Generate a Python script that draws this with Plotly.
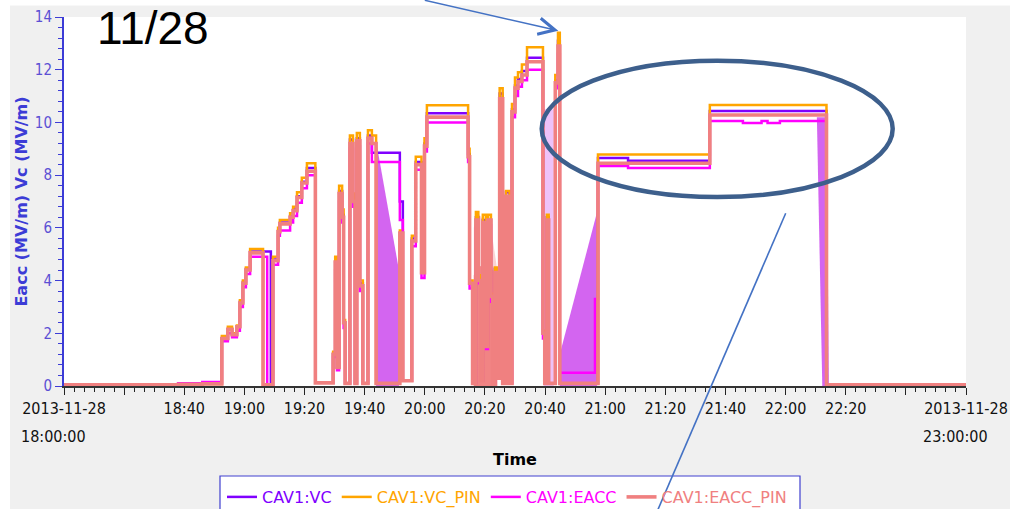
import pandas as pd
import plotly.graph_objects as go

START = pd.Timestamp("2013-11-28 18:00:00")

# Archived samples: minutes after 18:00 and field values (MV/m)
t_min = [0.0, 38.0, 46.0, 52.5, 54.5, 55.9, 57.5, 58.5, 59.5, 60.5,
         61.9, 66.2, 67.6, 68.8, 69.5, 71.2, 71.8, 75.2, 76.2, 77.5,
         79.1, 80.8, 83.6, 89.5, 90.2, 90.8, 91.5, 92.5, 93.0, 93.5,
         95.1, 96.1, 96.8, 97.4, 98.4, 99.4, 101.1, 102.4, 103.8, 111.7,
         112.7, 115.7, 117.0, 118.9, 119.9, 120.7, 134.4, 134.9, 135.9, 137.0,
         137.8, 138.6, 139.3, 140.3, 141.0, 142.0, 142.6, 143.3, 144.1, 144.9,
         145.9, 147.0, 148.2, 149.0, 150.0, 151.0, 152.3, 154.0, 159.3, 159.9,
         160.6, 161.2, 163.4, 164.3, 164.9, 176.6, 177.6, 187.6, 214.8, 225.8,
         232.0, 234.0, 238.1, 253.6, 300.0]

vc = [0.05, 0.08, 0.12, 1.80, 2.15, 1.95, 2.25, 3.20, 3.95, 4.45,
      5.10, 5.10, 5.10, 0.05, 4.80, 5.90, 6.20, 6.45, 6.70, 7.20,
      7.75, 8.27, 0.12, 1.20, 4.70, 0.70, 7.40, 6.50, 2.40, 0.10,
      9.35, 7.20, 0.10, 9.40, 3.90, 0.10, 9.50, 8.85, 8.85, 7.00,
      0.20, 5.60, 8.50, 4.30, 9.20, 10.35, 8.80, 3.90, 0.10, 6.40,
      4.10, 0.20, 6.30, 1.50, 6.30, 3.40, 0.10, 4.45, 0.30, 11.10,
      0.10, 7.35, 0.10, 10.50, 11.40, 11.65, 11.95, 12.45, 2.00, 0.10,
      6.40, 0.10, 11.60, 13.10, 0.10, 0.10, 8.65, 8.55, 10.43, 10.43,
      10.43, 10.43, 10.43, 0.05, 0.05]

vc_pin = [0.05, 0.06, 0.08, 1.90, 2.25, 2.00, 2.30, 3.25, 4.00, 4.50,
          5.20, 0.05, 0.05, 0.05, 4.90, 6.00, 6.30, 6.55, 6.80, 7.35,
          7.90, 8.45, 0.12, 1.30, 4.90, 0.70, 7.60, 6.70, 2.50, 0.10,
          9.50, 7.30, 0.10, 9.60, 4.00, 0.10, 9.70, 9.50, 0.10, 5.90,
          0.20, 5.70, 8.70, 4.40, 9.40, 10.65, 9.00, 4.00, 0.10, 6.60,
          4.20, 0.20, 6.50, 1.50, 6.50, 3.50, 0.10, 4.50, 0.30, 11.30,
          0.10, 7.40, 0.10, 10.70, 11.70, 11.90, 12.20, 12.85, 2.10, 0.10,
          6.50, 0.10, 11.80, 13.40, 0.10, 0.10, 8.78, 8.78, 10.66, 10.66,
          10.66, 10.66, 10.66, 0.05, 0.05]

eacc = [0.05, 0.10, 0.15, 1.70, 2.00, 1.85, 2.10, 3.00, 3.75, 4.25,
        4.90, 4.90, 0.05, 0.05, 4.60, 5.70, 5.90, 6.20, 6.45, 6.95,
        7.50, 8.00, 0.12, 1.10, 4.40, 0.60, 7.00, 6.20, 2.20, 0.10,
        9.00, 6.80, 0.10, 9.10, 3.60, 0.10, 9.20, 8.50, 8.50, 6.30,
        0.20, 5.30, 8.20, 4.10, 8.90, 10.00, 8.50, 3.70, 0.10, 6.00,
        3.90, 0.20, 6.00, 1.40, 6.10, 3.20, 0.10, 4.20, 0.30, 10.80,
        0.10, 7.10, 0.10, 10.20, 11.00, 11.35, 11.60, 12.00, 1.80, 0.10,
        6.20, 0.10, 11.30, 12.60, 0.50, 3.30, 8.35, 8.27, 10.05, 9.98,
        10.05, 9.98, 10.05, 0.05, 0.05]

eacc_pin = [0.05, 0.06, 0.08, 1.80, 2.15, 1.95, 2.25, 3.15, 3.90, 4.40,
            5.05, 0.05, 0.05, 0.05, 4.75, 5.85, 6.15, 6.40, 6.65, 7.15,
            7.70, 8.15, 0.12, 1.20, 4.70, 0.70, 7.30, 6.40, 2.40, 0.10,
            9.20, 7.00, 0.10, 9.30, 3.80, 0.10, 9.40, 9.20, 0.10, 5.80,
            0.20, 5.50, 8.40, 4.30, 9.10, 10.20, 8.70, 3.90, 0.10, 6.30,
            4.00, 0.20, 6.20, 1.50, 6.30, 3.40, 0.10, 4.30, 0.30, 10.90,
            0.10, 7.20, 0.10, 10.40, 11.30, 11.55, 11.80, 12.30, 2.00, 0.10,
            6.30, 0.10, 11.50, 12.90, 0.10, 0.10, 8.45, 8.45, 10.28, 10.28,
            10.28, 10.28, 10.28, 0.05, 0.05]

# Min/max envelopes of the archive bins (outline of each shaded band)
band_a_t = [103.8, 103.8, 111.4, 111.4]
band_a_v = [0.0, 9.3, 4.4, 0.0]
band_b_t = [164.9, 164.9, 177.3, 177.3]
band_b_v = [0.0, 1.2, 6.6, 0.0]
band_c_t = [250.4, 253.6, 254.4, 252.2]
band_c_v = [10.2, 10.2, 0.0, 0.0]
band_d_t = [159.6, 159.6, 162.9, 162.9]
band_d_v = [0.0, 10.5, 10.5, 0.0]

# EACC_PIN envelope while the cavity was tripping (20:16 - 20:24)
pin_band_t = [136.3, 136.3, 137.5, 139.5, 141.5, 143.2, 144.1, 144.1]
pin_band_hi = [0.0, 4.2, 4.6, 4.5, 4.6, 4.3, 4.0, 0.0]
pin_band_top = [0.0, 6.0, 6.6, 6.3, 6.4, 5.2, 4.4, 0.0]

series_names = ["CAV1:VC", "CAV1:VC_PIN", "CAV1:EACC", "CAV1:EACC_PIN"]
series_colors = ["#8000ff", "#ffa500", "#ff00ff", "#f08080"]

x_tick_min = list(range(0, 301, 20))
x_tick_text = ["2013-11-28", "", "18:40", "19:00", "19:20", "19:40", "20:00",
               "20:20", "20:40", "21:00", "21:20", "21:40", "22:00", "22:20",
               "", "2013-11-28"]


def to_time(minutes):
    return [(START + pd.Timedelta(minutes=m)).strftime("%Y-%m-%d %H:%M:%S")
            for m in minutes]


# figure geometry (pixels)
W, H = 1010, 509
L, R, T, B = 64, 966, 17, 386


def px_x(p):
    return (p - L) / (R - L)


def px_y(p):
    return (B - p) / (B - T)


FONT = "DejaVu Sans Condensed, Liberation Sans Narrow, DejaVu Sans, sans-serif"
FONT_WIDE = "DejaVu Sans, sans-serif"

fig = go.Figure()

band_fill = "rgba(205, 80, 238, 0.88)"
for bt, bv, col in [(band_a_t, band_a_v, band_fill),
                    (band_b_t, band_b_v, band_fill),
                    (band_c_t, band_c_v, band_fill),
                    (band_d_t, band_d_v, "rgba(205, 80, 238, 0.35)"),
                    (pin_band_t, pin_band_top, "rgba(240, 128, 128, 0.35)"),
                    (pin_band_t, pin_band_hi, "rgba(240, 128, 128, 0.95)")]:
    fig.add_trace(go.Scatter(
        x=to_time(bt), y=bv, mode="lines", fill="toself",
        fillcolor=col, line=dict(width=0, color=col),
        showlegend=False, hoverinfo="skip"))

widths = [2.5, 2.5, 2.5, 3.6]
for name, vals, col, w in zip(series_names, [vc, vc_pin, eacc, eacc_pin],
                              series_colors, widths):
    fig.add_trace(go.Scatter(
        x=to_time(t_min), y=vals, mode="lines",
        line=dict(color=col, width=w, shape="hv"),
        name=f"<span style='color:{col}'>{name}</span>"))

axis_blue = "#3c3cd6"
fig.update_layout(
    width=W, height=H,
    margin=dict(l=L, r=W - R, t=T, b=H - B, autoexpand=False),
    paper_bgcolor="#f0f0f0",
    plot_bgcolor="#ffffff",
    font=dict(family=FONT, size=15, color="#000000"),
    xaxis=dict(
        range=to_time([0, 300]),
        automargin=False,
        tickmode="array",
        tickvals=to_time(x_tick_min),
        ticktext=x_tick_text,
        ticks="outside", ticklen=7, tickwidth=1, tickcolor="#222222",
        showline=True, linecolor="#333333", linewidth=2,
        showgrid=False, zeroline=False,
        tickfont=dict(size=16, color="#111111"),
        minor=dict(tickmode="linear", tick0=to_time([0])[0], dtick=200000,
                   ticks="outside", ticklen=4, tickcolor="#222222",
                   showgrid=False),
        title=dict(text="<b>Time</b>",
                   font=dict(size=16, color="#000000", family=FONT_WIDE),
                   standoff=37),
    ),
    yaxis=dict(
        range=[0, 14],
        automargin=False,
        tickmode="linear", tick0=0, dtick=2,
        ticks="outside", ticklen=7, tickwidth=1, tickcolor=axis_blue,
        showline=True, linecolor=axis_blue, linewidth=2,
        showgrid=False, zeroline=False,
        tickfont=dict(size=15, color="#5b4fd4"),
        minor=dict(tickmode="linear", tick0=0, dtick=0.4, ticks="outside",
                   ticklen=4, tickcolor=axis_blue, showgrid=False),
        title=dict(text="<b>Eacc (MV/m) Vc (MV/m)</b>",
                   font=dict(size=16, color=axis_blue, family=FONT_WIDE),
                   standoff=3),
    ),
    legend=dict(
        orientation="h", xref="container", yref="container",
        x=222 / W, y=1 - 480 / H, xanchor="left", yanchor="top",
        bgcolor="rgba(0,0,0,0)", borderwidth=0,
        font=dict(size=16, family=FONT_WIDE), itemwidth=30,
    ),
    showlegend=True,
)

shapes = [
    # white page margins around the screenshot
    dict(type="rect", xref="paper", yref="paper", layer="below",
         x0=px_x(-5), x1=px_x(W + 5), y0=px_y(5.5), y1=px_y(-5),
         fillcolor="#ffffff", line=dict(width=0)),
    dict(type="rect", xref="paper", yref="paper", layer="below",
         x0=px_x(-5), x1=px_x(10), y0=px_y(H + 5), y1=px_y(-5),
         fillcolor="#ffffff", line=dict(width=0)),
    # legend frame
    dict(type="rect", xref="paper", yref="paper", layer="below",
         x0=px_x(220), x1=px_x(800), y0=px_y(525), y1=px_y(476),
         fillcolor="#ffffff", line=dict(color="#4040d0", width=1.2)),
    # highlight ellipse
    dict(type="circle", xref="paper", yref="paper", layer="above",
         x0=px_x(541.7), x1=px_x(892.7), y0=px_y(197), y1=px_y(60.7),
         line=dict(color="#3d5f8c", width=4.5)),
    # pointer line
    dict(type="line", xref="paper", yref="paper", layer="above",
         x0=px_x(785.7), y0=px_y(213.3), x1=px_x(650.0), y1=px_y(528.0),
         line=dict(color="#4472c4", width=1.6)),
]
fig.update_layout(shapes=shapes)

fig.add_annotation(
    xref="paper", yref="paper", x=px_x(153), y=px_y(28),
    text="11/28", showarrow=False, xanchor="center", yanchor="middle",
    font=dict(family="Liberation Sans, Arial, sans-serif", size=46, color="#000000"))

fig.add_annotation(
    xref="paper", yref="paper", x=px_x(558.3), y=px_y(30.7),
    text="", showarrow=True, arrowhead=5, arrowsize=2.0, arrowwidth=1.6,
    arrowcolor="#4472c4", ax=-135, ay=-43)

for px_left, label in [(19, "18:00:00"), (921, "23:00:00")]:
    fig.add_annotation(
        xref="paper", yref="paper", x=px_x(px_left), y=px_y(436),
        text=label, showarrow=False, xanchor="left", yanchor="middle",
        font=dict(size=16, color="#111111", family=FONT))

fig.write_html("out.html")
